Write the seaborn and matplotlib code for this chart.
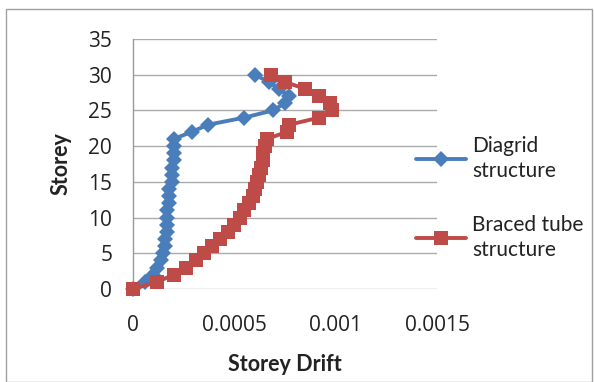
import matplotlib
matplotlib.use("Agg")
import matplotlib.pyplot as plt
import seaborn as sns
import pandas as pd
from matplotlib.patches import Rectangle

storey = list(range(0, 31))
diagrid = [0, 0.00006, 0.0001, 0.00012, 0.00014, 0.00015, 0.00016, 0.00016, 0.00017, 0.00017,
           0.00017, 0.00017, 0.00018, 0.00018, 0.00018, 0.00019, 0.00019, 0.00019, 0.0002, 0.0002,
           0.0002, 0.0002, 0.00029, 0.00037, 0.00055, 0.00069, 0.00075, 0.00077, 0.00072, 0.00067,
           0.0006]
braced = [0, 0.00012, 0.0002, 0.00026, 0.00031, 0.00035, 0.00039, 0.00043, 0.00047, 0.0005,
          0.00053, 0.00055, 0.00057, 0.00059, 0.0006, 0.00061, 0.00062, 0.00063, 0.00064, 0.00064,
          0.00065, 0.00066, 0.00076, 0.00077, 0.00092, 0.00098, 0.00097, 0.00092, 0.00085, 0.00075,
          0.00068]
series_names = ["Diagrid\nstructure", "Braced tube\nstructure"]
x_ticks = [0, 0.0005, 0.001, 0.0015]
x_tick_labels = ["0", "0.0005", "0.001", "0.0015"]
y_ticks = [0, 5, 10, 15, 20, 25, 30, 35]
y_tick_labels = ["0", "5", "10", "15", "20", "25", "30", "35"]

sns.set_theme(style="white")
plt.rcParams["font.family"] = ["Lato", "DejaVu Sans"]

FS = 15
TICK_FONT = ["Open Sans", "DejaVu Sans"]
W, H = 594, 382
fig = plt.figure(figsize=(W / 100, H / 100), dpi=100)
ax = fig.add_axes([133 / W, 1 - 289 / H, (437 - 133) / W, (289 - 39) / H])

df = pd.DataFrame({
    "storey": storey * 2,
    "drift": diagrid + braced,
    "series": [series_names[0]] * len(storey) + [series_names[1]] * len(storey),
})

colors = {series_names[0]: "#4A7EBB", series_names[1]: "#BE4B48"}
markers = {series_names[0]: "D", series_names[1]: "s"}
sizes = {series_names[0]: 8, series_names[1]: 10}

for name in series_names:
    sub = df[df["series"] == name]
    sns.lineplot(data=sub, x="drift", y="storey", sort=False, estimator=None, ax=ax,
                 color=colors[name], marker=markers[name], markersize=sizes[name],
                 markeredgewidth=0, linewidth=2.8, label=name, clip_on=False, zorder=3)

ax.set_xlim(0, 0.0015)
ax.set_ylim(0, 35)
ax.set_xticks(x_ticks)
ax.set_xticklabels(x_tick_labels, family=TICK_FONT, fontsize=15, color="#222222")
ax.set_yticks(y_ticks)
ax.set_yticklabels(y_tick_labels, family=TICK_FONT, fontsize=15, color="#222222")
ax.tick_params(axis="x", length=0, pad=19)
ax.tick_params(axis="y", length=0, pad=15)
ax.grid(axis="y", color="#ABABAB", linewidth=1)
ax.set_axisbelow(True)
for s in ["top", "right", "bottom"]:
    ax.spines[s].set_visible(False)
ax.spines["left"].set_color("#9A9A9A")
ax.spines["left"].set_linewidth(1)

ax.set_xlabel("Storey Drift", fontsize=15.5, fontweight="bold", labelpad=13, color="#222222")
ax.set_ylabel("Storey", fontsize=15.5, fontweight="bold", labelpad=12, color="#222222")

h, l = ax.get_legend_handles_labels()
ax.get_legend().remove()
leg = fig.legend(h, l, loc="upper left", bbox_to_anchor=(397 / W, 1 - 117 / H), frameon=False,
                 fontsize=FS, handlelength=2.4, labelspacing=1.6, handletextpad=0.3,
                 labelcolor="#222222")
for t in leg.get_texts():
    t.set_linespacing(1.35)

fig.patches.append(Rectangle((6 / W, 0), (592 - 6) / W, 1 - 9 / H, transform=fig.transFigure,
                             fill=False, edgecolor="#A0A0A0", linewidth=1))

fig.savefig("out.png", dpi=100)
